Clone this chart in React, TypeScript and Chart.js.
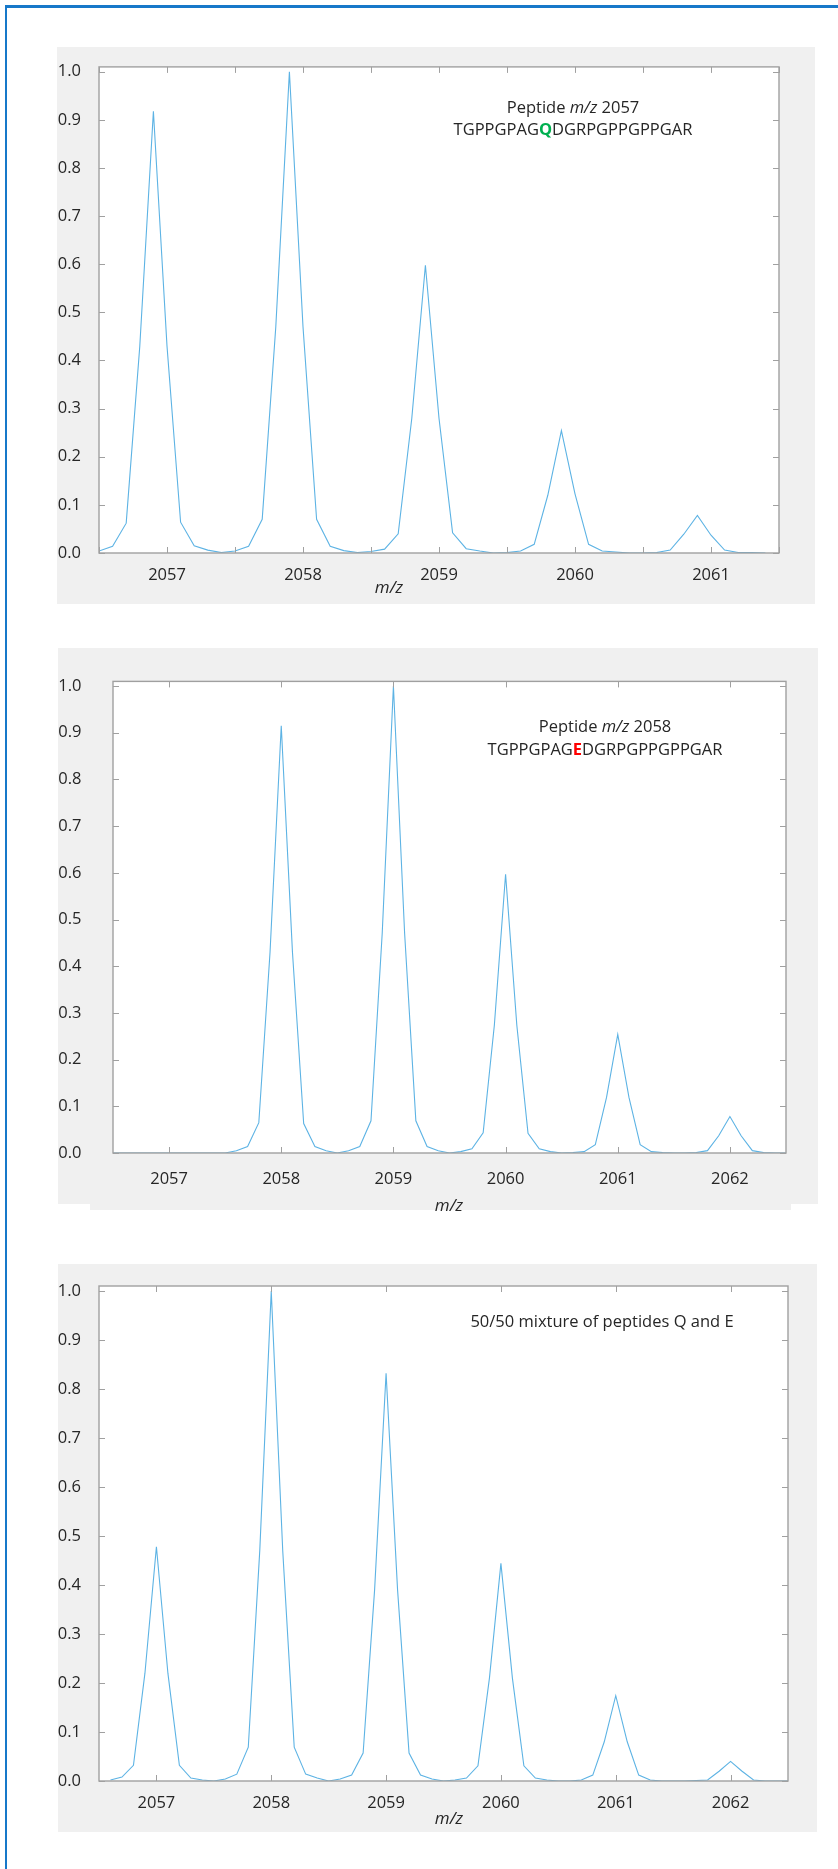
import React, { useEffect, useRef } from "react";
import { Chart, registerables } from "chart.js";

Chart.register(...registerables);

// m/z sampling grid shared by the three spectra (0.1 Th steps)
const MZ_GRID = [
  2056.5, 2056.6, 2056.7, 2056.8, 2056.9, 2057.0, 2057.1, 2057.2, 2057.3, 2057.4,
  2057.5, 2057.6, 2057.7, 2057.8, 2057.9, 2058.0, 2058.1, 2058.2, 2058.3, 2058.4,
  2058.5, 2058.6, 2058.7, 2058.8, 2058.9, 2059.0, 2059.1, 2059.2, 2059.3, 2059.4,
  2059.5, 2059.6, 2059.7, 2059.8, 2059.9, 2060.0, 2060.1, 2060.2, 2060.3, 2060.4,
  2060.5, 2060.6, 2060.7, 2060.8, 2060.9, 2061.0, 2061.1, 2061.2, 2061.3, 2061.4,
  2061.5, 2061.6, 2061.7, 2061.8, 2061.9, 2062.0, 2062.1, 2062.2, 2062.3, 2062.4,
  2062.5,
];

// Peptide Q (m/z 2057), 2056.5 .. 2061.4
const Q_PEPTIDE = [
  0.004, 0.014, 0.062, 0.43, 0.918, 0.43, 0.064, 0.015, 0.006, 0.001,
  0.004, 0.014, 0.07, 0.47, 1.0, 0.47, 0.07, 0.014, 0.005, 0.001,
  0.003, 0.008, 0.04, 0.28, 0.598, 0.28, 0.042, 0.009, 0.004, 0.0,
  0.001, 0.004, 0.018, 0.12, 0.254, 0.123, 0.018, 0.004, 0.002, 0.0,
  0.0, 0.001, 0.006, 0.039, 0.078, 0.037, 0.006, 0.001, 0.001, 0.0,
];

// Peptide E (m/z 2058), 2056.5 .. 2062.5
const E_PEPTIDE = [
  0, 0, 0, 0, 0, 0, 0, 0, 0, 0,
  0, 0.005, 0.014, 0.065, 0.43, 0.915, 0.43, 0.063, 0.014, 0.005,
  0.0, 0.005, 0.014, 0.069, 0.47, 1.0, 0.47, 0.069, 0.014, 0.005,
  0.0, 0.003, 0.009, 0.043, 0.274, 0.597, 0.274, 0.042, 0.009, 0.003,
  0.0, 0.001, 0.003, 0.018, 0.119, 0.254, 0.119, 0.018, 0.003, 0.001,
  0.0, 0.0, 0.001, 0.005, 0.037, 0.078, 0.037, 0.005, 0.001, 0.0,
  0.0,
];

// 50/50 mixture of Q and E, 2056.5 .. 2062.5 (trace starts at 2056.6)
const QE_MIXTURE = [
  null, 0.002, 0.008, 0.032, 0.22, 0.478, 0.22, 0.032, 0.006, 0.002,
  0.0, 0.004, 0.014, 0.069, 0.47, 1.0, 0.47, 0.069, 0.014, 0.006,
  0.0, 0.004, 0.012, 0.057, 0.39, 0.832, 0.39, 0.057, 0.012, 0.004,
  0.0, 0.002, 0.006, 0.031, 0.21, 0.444, 0.21, 0.031, 0.006, 0.002,
  0.0, 0.0, 0.002, 0.012, 0.08, 0.174, 0.08, 0.012, 0.002, 0.0,
  0.0, 0.0, 0.001, 0.002, 0.02, 0.04, 0.02, 0.002, 0.0, 0.0,
  0.0,
];

const Y_TICKS = [0, 0.1, 0.2, 0.3, 0.4, 0.5, 0.6, 0.7, 0.8, 0.9, 1.0];
const X_TICKS_HALF = [
  2056.5, 2057, 2057.5, 2058, 2058.5, 2059, 2059.5, 2060, 2060.5, 2061, 2061.5,
];
const X_TICKS_UNIT = [2057, 2058, 2059, 2060, 2061, 2062];

const X_TITLE = "m/z";

const LINE_COLOR = "#5db3e4";
const AXIS_COLOR = "#a0a0a0";
const TEXT_COLOR = "#262626";
const PANEL_BG = "#f0f0f0";
const PLOT_BG = "#ffffff";
const Q_COLOR = "#00b050";
const E_COLOR = "#ff0000";
const FONT = "'Open Sans', sans-serif";
const FONT_SIZE = 16.5;
const TICK_LEN = 6;

type Seg = { text: string; italic?: boolean; bold?: boolean; color?: string };

type PanelCfg = {
  box: { left: number; top: number; width: number; height: number };
  area: { left: number; top: number; right: number; bottom: number };
  xMin: number;
  xMax: number;
  xTicks: number[];
  xLabelPad: number;
  yLabelPad: number;
  xs: number[];
  ys: (number | null)[];
  title: { x: number; y: number };
  noteX: number;
  notes: { y: number; segs: Seg[] }[];
  extraBg?: { left: number; top: number; width: number; height: number };
};

const PANELS: PanelCfg[] = [
  {
    box: { left: 57, top: 47, width: 758, height: 557 },
    area: { left: 99, top: 64, right: 779, bottom: 553 },
    xMin: 2056.5,
    xMax: 2061.5,
    xTicks: X_TICKS_HALF,
    xLabelPad: 4.6,
    yLabelPad: 10,
    xs: MZ_GRID.slice(0, Q_PEPTIDE.length),
    ys: Q_PEPTIDE,
    title: { x: 389, y: 588 },
    noteX: 573,
    notes: [
      { y: 108, segs: [{ text: "Peptide " }, { text: "m/z", italic: true }, { text: " 2057" }] },
      {
        y: 130.5,
        segs: [
          { text: "TGPPGPAG" },
          { text: "Q", bold: true, color: Q_COLOR },
          { text: "DGRPGPPGPPGAR" },
        ],
      },
    ],
  },
  {
    box: { left: 58, top: 648, width: 760, height: 568 },
    area: { left: 113, top: 670, right: 786, bottom: 1153 },
    xMin: 2056.5,
    xMax: 2062.5,
    xTicks: X_TICKS_UNIT,
    xLabelPad: 8.6,
    yLabelPad: 23.5,
    xs: MZ_GRID,
    ys: E_PEPTIDE,
    title: { x: 449, y: 1206.5 },
    noteX: 605,
    notes: [
      { y: 727.5, segs: [{ text: "Peptide " }, { text: "m/z", italic: true }, { text: " 2058" }] },
      {
        y: 750.5,
        segs: [
          { text: "TGPPGPAG" },
          { text: "E", bold: true, color: E_COLOR },
          { text: "DGRPGPPGPPGAR" },
        ],
      },
    ],
    extraBg: { left: 90, top: 1204, width: 701, height: 6 },
  },
  {
    box: { left: 58, top: 1264, width: 759, height: 568 },
    area: { left: 99, top: 1286, right: 788, bottom: 1781 },
    xMin: 2056.5,
    xMax: 2062.5,
    xTicks: X_TICKS_UNIT,
    xLabelPad: 4.6,
    yLabelPad: 10,
    xs: MZ_GRID,
    ys: QE_MIXTURE,
    title: { x: 449, y: 1819 },
    noteX: 602,
    notes: [{ y: 1322.5, segs: [{ text: "50/50 mixture of peptides Q and E" }] }],
  },
];

function segFont(s: Seg) {
  return `${s.italic ? "italic " : ""}${s.bold ? "bold " : ""}${FONT_SIZE}px ${FONT}`;
}

function drawSegments(ctx: CanvasRenderingContext2D, segs: Seg[], cx: number, cy: number) {
  let total = 0;
  const widths = segs.map((s) => {
    ctx.font = segFont(s);
    const w = ctx.measureText(s.text).width;
    total += w;
    return w;
  });
  let x = cx - total / 2;
  ctx.textAlign = "left";
  ctx.textBaseline = "middle";
  segs.forEach((s, i) => {
    ctx.font = segFont(s);
    ctx.fillStyle = s.color || TEXT_COLOR;
    ctx.fillText(s.text, x, cy);
    x += widths[i];
  });
}

function Panel({ cfg }: { cfg: PanelCfg }) {
  const ref = useRef<HTMLCanvasElement | null>(null);

  useEffect(() => {
    const canvas = ref.current;
    if (!canvas) return;
    const { box, area } = cfg;
    const ox = box.left;
    const oy = box.top;

    const decor = {
      id: "decor",
      beforeDatasetsDraw(chart: any) {
        const { ctx, chartArea: a } = chart;
        ctx.save();
        ctx.fillStyle = PLOT_BG;
        ctx.fillRect(a.left, a.top, a.right - a.left, a.bottom - a.top);
        ctx.restore();
      },
      afterDatasetsDraw(chart: any) {
        const { ctx, chartArea: a } = chart;
        const xs = chart.scales.x;
        const ys = chart.scales.y;
        ctx.save();
        ctx.strokeStyle = AXIS_COLOR;
        ctx.lineWidth = 1;
        ctx.beginPath();
        for (const t of xs.ticks) {
          const px = Math.round(xs.getPixelForValue(t.value)) + 0.5;
          ctx.moveTo(px, a.bottom);
          ctx.lineTo(px, a.bottom - TICK_LEN);
          ctx.moveTo(px, a.top);
          ctx.lineTo(px, a.top + TICK_LEN);
        }
        for (const t of ys.ticks) {
          const py = Math.round(ys.getPixelForValue(t.value)) + 0.5;
          ctx.moveTo(a.left, py);
          ctx.lineTo(a.left + TICK_LEN, py);
          ctx.moveTo(a.right, py);
          ctx.lineTo(a.right - TICK_LEN, py);
        }
        ctx.stroke();
        ctx.lineWidth = 1.4;
        ctx.strokeRect(a.left, a.top, a.right - a.left, a.bottom - a.top);

        // axis title
        ctx.font = `italic ${FONT_SIZE + 0.5}px ${FONT}`;
        ctx.fillStyle = TEXT_COLOR;
        ctx.textAlign = "center";
        ctx.textBaseline = "middle";
        ctx.fillText(X_TITLE, cfg.title.x - ox, cfg.title.y - oy);

        // annotation
        for (const n of cfg.notes) {
          drawSegments(ctx, n.segs, cfg.noteX - ox, n.y - oy);
        }
        ctx.restore();
      },
    };

    const chart = new Chart(canvas, {
      type: "line",
      data: {
        datasets: [
          {
            data: cfg.xs.map((x, i) => ({ x, y: cfg.ys[i] as any })),
            borderColor: LINE_COLOR,
            borderWidth: 1.1,
            pointRadius: 0,
            tension: 0,
            spanGaps: false,
            fill: false,
          },
        ],
      },
      options: {
        responsive: false,
        animation: false,
        events: [],
        layout: {
          padding: {
            left: 0,
            bottom: 0,
            top: area.top - oy,
            right: ox + box.width - area.right,
          },
        },
        plugins: {
          legend: { display: false },
          tooltip: { enabled: false },
          title: { display: false },
        },
        scales: {
          x: {
            type: "linear",
            min: cfg.xMin,
            max: cfg.xMax,
            grid: { display: false },
            border: { display: false },
            afterBuildTicks: (s: any) => {
              s.ticks = cfg.xTicks.map((v) => ({ value: v }));
            },
            afterFit: (s: any) => {
              s.height = oy + box.height - area.bottom;
            },
            ticks: {
              autoSkip: false,
              maxRotation: 0,
              padding: cfg.xLabelPad,
              color: TEXT_COLOR,
              font: { family: FONT, size: FONT_SIZE },
              callback: (v: any) => (Number.isInteger(Number(v)) ? String(v) : ""),
            },
          },
          y: {
            type: "linear",
            min: 0,
            max: 1.01,
            grid: { display: false },
            border: { display: false },
            afterBuildTicks: (s: any) => {
              s.ticks = Y_TICKS.map((v) => ({ value: v }));
            },
            afterFit: (s: any) => {
              s.width = area.left - ox;
            },
            ticks: {
              padding: cfg.yLabelPad,
              color: TEXT_COLOR,
              font: { family: FONT, size: FONT_SIZE },
              callback: (v: any) => Number(v).toFixed(1),
            },
          },
        },
      },
      plugins: [decor],
    });

    return () => chart.destroy();
  }, [cfg]);

  return (
    <>
      <div
        style={{
          position: "absolute",
          left: cfg.box.left,
          top: cfg.box.top,
          width: cfg.box.width,
          height: cfg.extraBg ? cfg.extraBg.top - cfg.box.top : cfg.box.height,
          background: PANEL_BG,
        }}
      />
      {cfg.extraBg && (
        <div
          style={{
            position: "absolute",
            left: cfg.extraBg.left,
            top: cfg.extraBg.top,
            width: cfg.extraBg.width,
            height: cfg.extraBg.height,
            background: PANEL_BG,
          }}
        />
      )}
      <canvas
        ref={ref}
        width={cfg.box.width}
        height={cfg.box.height}
        style={{
          position: "absolute",
          left: cfg.box.left,
          top: cfg.box.top,
          width: cfg.box.width,
          height: cfg.box.height,
        }}
      />
    </>
  );
}

export default function App() {
  return (
    <div
      style={{
        position: "absolute",
        left: 0,
        top: 0,
        width: 838,
        height: 1869,
        background: "#ffffff",
        overflow: "hidden",
      }}
    >
      <div
        style={{
          position: "absolute",
          left: 5,
          top: 5,
          width: 840,
          height: 1870,
          borderLeft: "2.5px solid #1778c9",
          borderTop: "3px solid #1778c9",
        }}
      />
      {PANELS.map((p, i) => (
        <Panel key={i} cfg={p} />
      ))}
    </div>
  );
}
